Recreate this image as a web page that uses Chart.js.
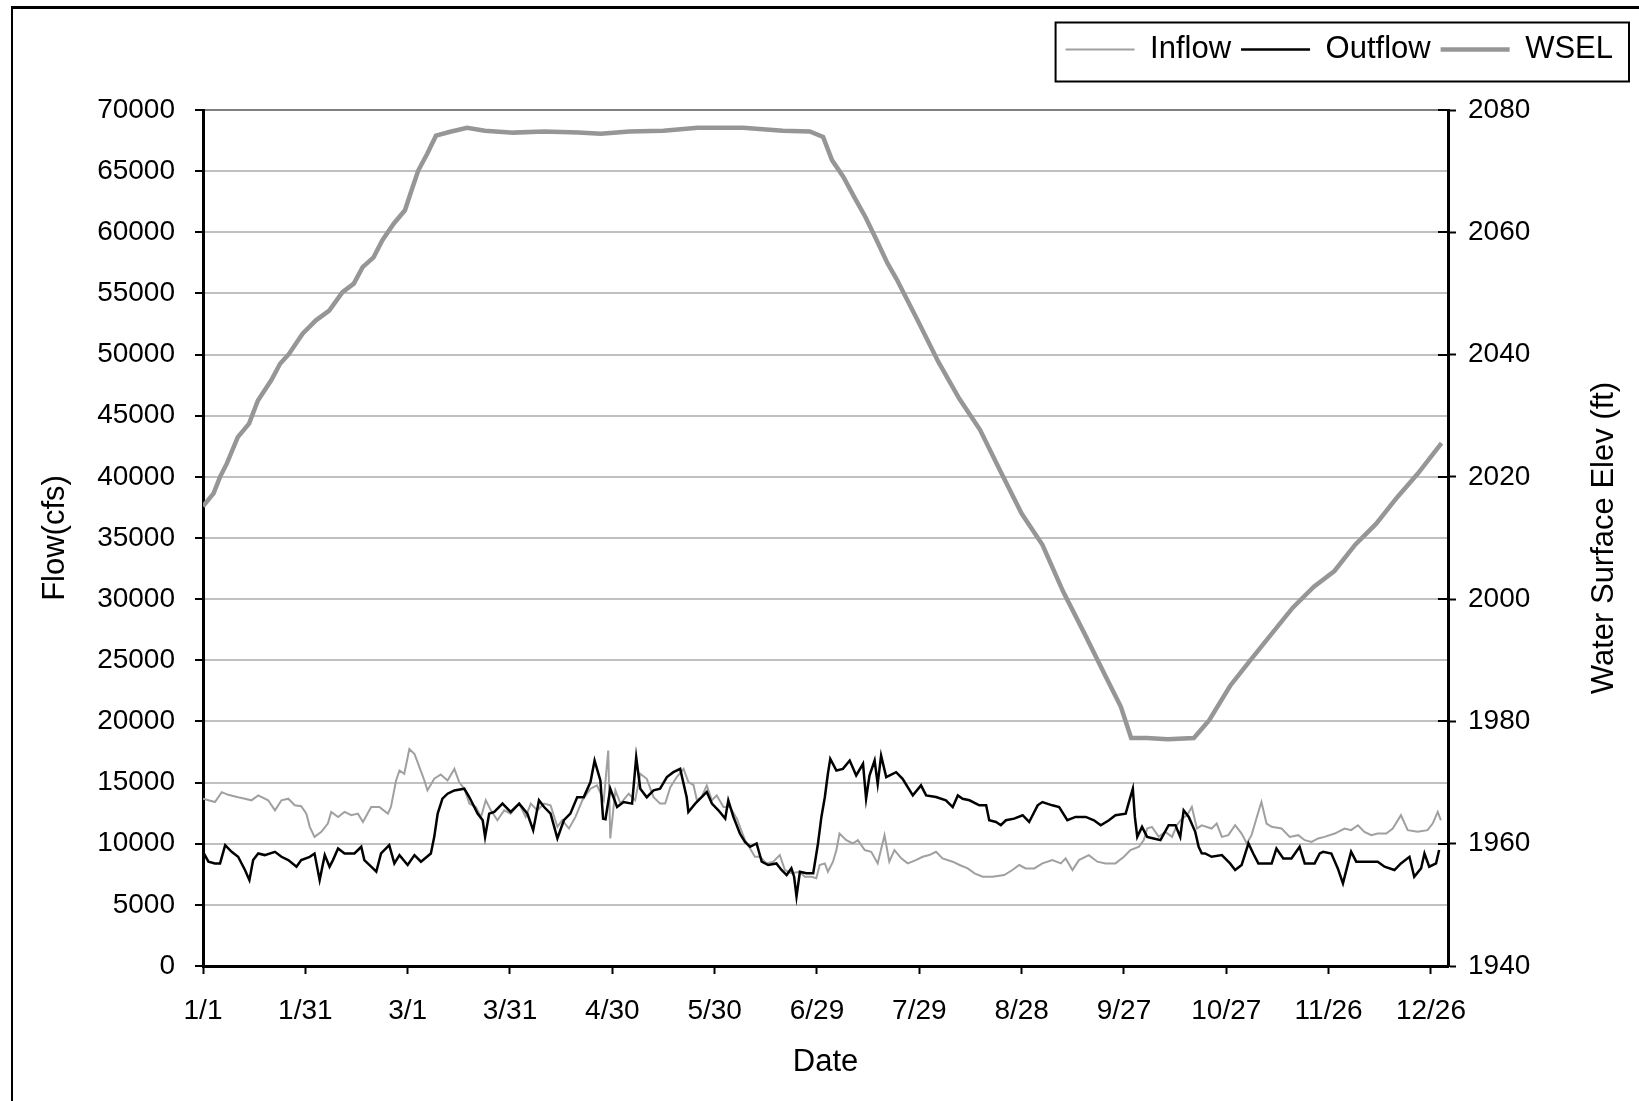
<!DOCTYPE html>
<html>
<head>
<title>Inflow, Outflow y WSEL</title>
<script src="https://cdn.jsdelivr.net/npm/chart.js"></script>
<style>
  html, body { margin: 0; padding: 0; background: #fff; }
  #marco { width: 1639px; height: 1101px; }
</style>
</head>
<body>
<div id="marco"><canvas id="grafica" width="1639" height="1101"></canvas></div>
<script>
// Etiquetas del eje de fechas (un tick cada 30 dias)
const tickDia = [0, 30, 60, 90, 120, 150, 180, 210, 240, 270, 300, 330, 360];
const tickFecha = ['1/1', '1/31', '3/1', '3/31', '4/30', '5/30', '6/29', '7/29', '8/28', '9/27', '10/27', '11/26', '12/26'];

// Inflow (cfs)
const inflowDia = [0,3.5,5.5,7.4,10.3,12.3,14.2,16.2,19.1,21.1,23,25,26.9,28.8,30.3,31.3,32.7,34.7,36.6,37.6,39.6,41.5,43.5,45.4,46.9,49.3,51.7,54.2,55.1,56.6,57.6,59,60.5,62,62.9,64.9,65.8,67.8,69.7,71.7,73.7,75.1,76.6,78.1,80,81.5,82.9,84.4,86.3,88.3,90.2,92.7,94.6,96.1,98,100,101.9,103.9,105.3,107.3,109.2,111.2,113.6,115.5,117.5,118.8,119.4,120.9,122.4,124.8,126.7,128.2,130.1,132.1,134,135.5,137,138.9,140.9,142.3,143.8,144.8,146.2,147.7,149.2,150.6,152.6,154.5,156.5,158.9,160.4,161.8,163.3,165.2,167.2,169.1,170.6,172.5,175,176.4,178.4,179.8,180.8,182.3,183.2,184.7,185.7,186.6,188.6,190.5,192,194,195.9,197.8,199.8,201.2,202.7,204.7,206.6,209,211,212.9,214.9,216.8,219.8,221.8,224.2,226.2,228.6,231.5,234.9,237.3,239.3,241.2,243.7,246.1,249,251.5,252.9,254.9,256.8,259.7,262.2,264.6,267.5,270,271.9,274.4,275.8,276.8,278.2,280.2,282.1,284.1,285.5,287,288.5,289.9,291.4,292.8,295.7,297.2,298.7,300.6,302.6,304.5,306,307.4,309.4,310.3,311.8,313.3,316.2,318.6,321.1,323,325,326.9,328.8,331.8,334.7,336.6,338.6,340.5,342.5,344.4,346.9,348.8,351.2,353.2,356.1,359,360.5,362,362.9];
const inflowCfs = [13680,13410,14220,14000,13800,13680,13550,13950,13550,12730,13550,13680,13140,13060,12460,11380,10560,10970,11650,12600,12190,12600,12330,12460,11780,13000,13000,12460,13000,15170,15990,15720,17750,17340,16670,15170,14360,15310,15660,15170,16120,15040,14500,13280,13000,12190,13550,12730,11920,12730,12460,13280,12190,13280,12730,13280,13140,11380,11920,11240,12190,13550,14500,14770,13550,17620,10430,14360,13280,14090,13550,15720,15310,13800,13280,13280,14630,15450,16120,15040,14800,13550,13820,14770,13550,13950,13000,13000,12050,10290,9610,8930,8930,8390,8530,9070,7850,7580,7710,7300,7300,7170,8260,8390,7710,8530,9480,10830,10290,10020,10290,9480,9340,8390,10700,8530,9480,8800,8390,8660,8930,9070,9340,8800,8530,8260,7980,7580,7300,7300,7440,7850,8260,7980,7980,8390,8660,8390,8800,7850,8660,9070,8530,8390,8390,8930,9480,9750,10290,11240,11380,10560,10970,10560,11510,12050,12330,13000,11240,11500,11240,11650,10560,10700,11510,10830,10020,10700,12600,13410,11650,11380,11240,10560,10700,10290,10150,10430,10560,10830,11240,11110,11510,10970,10700,10830,10830,11240,12330,11110,10970,11110,11650,12600,11920];

// Outflow (cfs)
const outflowDia = [0,1.6,3.5,5,6.5,8.4,10.3,12.3,13.6,14.7,16.2,18.1,21.1,23,25,27.4,28.8,31.3,32.7,34.2,35.7,37.1,38.1,39.6,41.5,44.4,46.4,47.3,49.3,50.8,52.2,54.6,56.1,57.6,60,62,63.9,66.8,67.8,68.8,70.2,71.7,73.7,76.6,78.1,80.5,82,82.7,83.9,85.4,87.8,90.2,92.7,95.1,96.8,98.5,100,101.9,103.9,105.8,107.7,109.7,111.6,113.6,114.8,116.5,117.3,118,119.4,121.4,123.3,125.8,127,128.2,130.1,132.1,134,136,137.9,139.9,141.8,142.3,144.3,147.7,149.2,151.1,153.1,154,155.5,157.4,158.9,160.4,162.3,163.8,165.7,168.1,169.6,171.1,172.5,173.3,174,175,176.9,178.9,180.3,181.3,182.3,183.2,183.9,185.7,187.6,189.6,191.5,193.5,194.4,195.4,196.9,197.8,198.8,200.3,203.2,205.1,208.1,210.5,212,214.9,217.8,219.8,221.3,222.7,224.7,227.6,229.6,230.5,232.5,233.9,235.4,237.8,240.3,242.2,244.7,246.1,249,251,253.4,255.8,258.8,261.2,263.2,265.6,267.5,270.5,271.6,272.6,273.2,273.9,275.3,276.8,278.7,280.7,283.1,285.1,286.5,287.5,289,290.9,291.9,292.8,293.8,295.7,298.7,301.1,302.6,304.5,306.5,307.9,309.4,313.3,314.7,316.7,319.1,321.5,323,325.9,327.4,328.4,330.8,332.7,334.2,335.7,336.6,338.1,340.5,344.4,346.4,349.3,351.2,353.7,355.1,357.1,358.1,359.5,361.5,362.4];
const outflowCfs = [9340,8530,8390,8390,9880,9340,8930,7850,7030,8660,9200,9070,9340,8930,8660,8120,8660,8930,9200,7030,9070,8120,8660,9610,9200,9200,9750,8660,8120,7710,9200,9880,8390,9070,8260,9070,8530,9200,10560,12460,13680,14090,14360,14500,13800,12460,11920,10560,12460,12600,13280,12600,13280,12460,11110,13550,13000,12460,10430,11920,12460,13800,13800,15040,16800,15170,12050,12000,14500,13000,13410,13280,17070,14500,13800,14360,14500,15450,15850,16120,13800,12600,13280,14230,13280,12730,12050,13550,12190,10830,10150,9750,10020,8530,8260,8390,7850,7440,7990,7300,5680,7710,7580,7580,10020,12190,13800,15720,16940,15990,16120,16800,15580,16530,13680,15580,16800,14900,17210,15450,15850,15310,13950,14770,13950,13820,13550,13000,13950,13680,13550,13140,13140,11920,11780,11510,11920,12050,12330,11780,13140,13410,13140,13000,11920,12190,12190,11920,11510,11920,12330,12460,13550,14500,12190,10560,11380,10560,10430,10290,11510,11510,10560,12730,12190,10970,9750,9210,9200,8930,9070,8390,7850,8260,10020,9200,8390,8390,9610,8800,8800,9750,8390,8390,9200,9340,9200,7980,6760,8390,9340,8530,8530,8530,8120,7850,8390,8930,7300,7980,9200,8120,8390,9480];

// WSEL (ft), eje derecho
const wselDia = [0,3.1,5,7,10.2,13.5,16.1,20,22.6,25.2,29.2,33.1,37,40.9,44.2,46.8,50,52.6,55.9,59.2,61.1,63.1,65.7,68.3,72.2,77.4,82.6,91,100,110,116.6,125,135,145,158.3,170,177.9,181.8,184.4,187.7,190.9,194.2,197.5,200.7,203.3,209.5,215.6,221.7,227.8,233.9,240,246.1,252.2,258.4,264.5,269.1,272.1,276.7,282.8,290.5,295,301.1,307.2,313.4,319.5,325.6,331.7,337.8,343.9,350,356.1,363.1];
const wselFt = [2015.2,2017.3,2020,2022.2,2026.5,2028.7,2032.5,2035.8,2038.5,2040.1,2043.4,2045.6,2047.2,2050.2,2051.6,2054.3,2055.9,2058.7,2061.4,2063.6,2066.8,2070.1,2072.8,2075.8,2076.4,2077.1,2076.6,2076.3,2076.5,2076.3,2076.1,2076.5,2076.6,2077.1,2077.1,2076.6,2076.5,2075.6,2071.8,2069.1,2065.8,2062.5,2058.7,2054.9,2052.4,2045.6,2038.8,2032.8,2027.7,2020.8,2014,2008.9,2001.2,1994.4,1987.5,1982.4,1977.3,1977.3,1977.1,1977.3,1980.2,1985.8,1990.1,1994.4,1998.6,2002,2004.6,2008.9,2012.3,2016.6,2020.5,2025.5];

function puntos(dias, valores) {
    return dias.map((d, i) => ({ x: d, y: valores[i] }));
}

Chart.defaults.font.family = '"Liberation Sans", Arial, sans-serif';
Chart.defaults.color = '#000';

const FUENTE_TICKS = 28;
const FUENTE_TITULO = 31;
const FUENTE_LEYENDA = 31;

// Fondo blanco y marco exterior
const marcoExterior = {
    id: 'marcoExterior',
    beforeDraw(chart) {
        const ctx = chart.ctx;
        ctx.save();
        ctx.fillStyle = '#fff';
        ctx.fillRect(0, 0, chart.width, chart.height);
        ctx.fillStyle = '#000';
        ctx.fillRect(11, 6, chart.width - 11, 3);
        ctx.fillRect(11, 6, 2, chart.height - 6);
        ctx.restore();
    }
};

// Espacio extra bajo la leyenda
const espacioLeyenda = {
    id: 'espacioLeyenda',
    beforeLayout(chart) {
        const lg = chart.legend;
        if (lg && !lg._conEspacio) {
            const fitOriginal = lg.fit;
            lg.fit = function () { fitOriginal.call(this); this.height += 35; };
            lg._conEspacio = true;
        }
    }
};

// Recuadro de la leyenda, ticks que cruzan el eje derecho y titulo del eje derecho
const extras = {
    id: 'extras',
    afterDraw(chart) {
        const ctx = chart.ctx;
        const lg = chart.legend;
        const y2 = chart.scales.y2;
        const ca = chart.chartArea;
        ctx.save();
        if (lg && lg.legendHitBoxes && lg.legendHitBoxes.length) {
            const x0 = lg.legendHitBoxes[0].left - 10;
            const x1 = lg.right + 6;
            const cy = lg.top + lg.options.labels.padding + FUENTE_LEYENDA / 2;
            ctx.strokeStyle = '#000';
            ctx.lineWidth = 2;
            ctx.strokeRect(x0, cy - 27, x1 - x0, 59);
        }
        // parte interior de las marcas del eje derecho
        ctx.strokeStyle = '#000';
        ctx.lineWidth = 2;
        y2.ticks.forEach((t) => {
            const py = Math.round(y2.getPixelForValue(t.value));
            ctx.beginPath();
            ctx.moveTo(ca.right - 10, py);
            ctx.lineTo(ca.right, py);
            ctx.stroke();
        });
        ctx.translate(y2.left + 156, (ca.top + ca.bottom) / 2);
        ctx.rotate(-Math.PI / 2);
        ctx.font = FUENTE_TITULO + 'px "Liberation Sans", Arial, sans-serif';
        ctx.fillStyle = '#000';
        ctx.textAlign = 'center';
        ctx.textBaseline = 'middle';
        ctx.fillText('Water Surface Elev (ft)', 0, 0);
        ctx.restore();
    }
};

const grafica = new Chart(document.getElementById('grafica'), {
    type: 'line',
    data: {
        datasets: [{
            label: 'Inflow',
            data: puntos(inflowDia, inflowCfs),
            borderColor: '#a0a0a0',
            borderWidth: 2,
            pointRadius: 0,
            pointStyle: 'line',
            yAxisID: 'y',
            order: 1
        }, {
            label: 'Outflow',
            data: puntos(outflowDia, outflowCfs),
            borderColor: '#000',
            borderWidth: 2.5,
            pointRadius: 0,
            pointStyle: 'line',
            yAxisID: 'y',
            order: 0
        }, {
            label: 'WSEL',
            data: puntos(wselDia, wselFt),
            borderColor: '#969696',
            borderWidth: 4.5,
            pointRadius: 0,
            pointStyle: 'line',
            yAxisID: 'y2',
            order: 2
        }]
    },
    options: {
        responsive: false,
        animation: false,
        devicePixelRatio: 1,
        layout: { padding: { top: 24, right: 16, bottom: 0, left: 0 } },
        plugins: {
            legend: {
                position: 'top',
                align: 'end',
                labels: {
                    sort: (a, b) => a.datasetIndex - b.datasetIndex,
                    usePointStyle: true,
                    pointStyleWidth: 69,
                    padding: 10,
                    color: '#000',
                    font: { size: FUENTE_LEYENDA }
                }
            },
            tooltip: { enabled: false }
        },
        scales: {
            x: {
                type: 'linear',
                position: 'bottom',
                min: 0,
                max: 365,
                afterFit: (s) => { s.height = 135; },
                afterBuildTicks: (s) => { s.ticks = tickDia.map(v => ({ value: v })); },
                ticks: {
                    autoSkip: false,
                    maxRotation: 0,
                    padding: 20,
                    font: { size: FUENTE_TICKS },
                    callback: (v) => tickFecha[tickDia.indexOf(v)]
                },
                grid: { drawOnChartArea: false, tickLength: 8, tickColor: '#000', tickWidth: 2 },
                border: { color: '#000', width: 3 },
                title: { display: true, text: 'Date', font: { size: FUENTE_TITULO }, padding: { bottom: 20 } }
            },
            y: {
                position: 'left',
                min: 0,
                max: 70000,
                afterFit: (s) => { s.width = 203; },
                ticks: { stepSize: 5000, padding: 20, font: { size: FUENTE_TICKS }, callback: (v) => String(v) },
                grid: {
                    color: (c) => (c.tick && c.tick.value === 70000) ? '#808080' : '#c0c0c0',
                    lineWidth: 2,
                    tickLength: 8,
                    tickColor: '#000',
                    tickWidth: 2
                },
                border: { color: '#000', width: 3 },
                title: { display: true, text: 'Flow(cfs)', font: { size: FUENTE_TITULO }, padding: { top: 37 } }
            },
            y2: {
                position: 'right',
                min: 1940,
                max: 2080,
                afterFit: (s) => { s.width = 175; },
                ticks: { stepSize: 20, padding: 12, font: { size: FUENTE_TICKS }, callback: (v) => String(v) },
                grid: { drawOnChartArea: false, tickLength: 8, tickColor: '#000', tickWidth: 2 },
                border: { color: '#000', width: 3 }
            }
        }
    },
    plugins: [marcoExterior, espacioLeyenda, extras]
});
</script>
</body>
</html>
